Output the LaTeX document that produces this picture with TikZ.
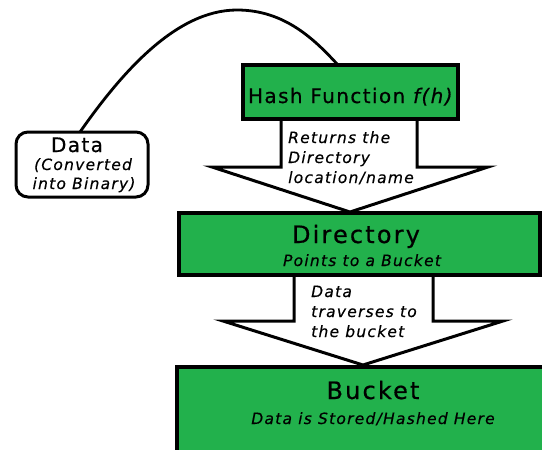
\documentclass[tikz,border=0pt]{standalone}
\usepackage{fontspec}
\setmainfont{DejaVu Sans}
\definecolor{hgreen}{RGB}{34,177,76}
\begin{document}
\begin{tikzpicture}[x=1pt,y=-1pt,
  gbox/.style={draw=black,line width=3.5pt,fill=hgreen},
  blockarrow/.style={draw=black,line width=3pt,fill=white,line join=miter},
  big/.style={anchor=base,inner sep=0pt,font=\fontsize{20}{22}\selectfont\addfontfeatures{LetterSpace=7,FakeBold=0.6}},
  huge/.style={anchor=base,inner sep=0pt,font=\fontsize{24}{26}\selectfont\addfontfeatures{LetterSpace=9,FakeBold=0.6}},
  small/.style={anchor=base,inner sep=0pt,font=\fontsize{15.5}{20}\selectfont\itshape\addfontfeatures{LetterSpace=8,FakeBold=0.4}}]
\useasboundingbox (0,0) rectangle (542,450);
% block arrow 1
\draw[blockarrow] (281,117) -- (281,167) -- (212,167) -- (350,212) -- (488,167) -- (417,167) -- (417,117);
% block arrow 2
\draw[blockarrow] (294,273) -- (294,321) -- (223,321) -- (363,365) -- (503,321) -- (433,321) -- (433,273);
% boxes
\draw[gbox] (243,65) rectangle (458,119);
\node[big] (hash) at (351,103) {Hash Function \textit{f(h)}};
\draw[gbox] (179,213) rectangle (540,275);
\node[huge] (dir) at (356,243) {Directory};
\node[small] (dirsub) at (362,266) {Points to a Bucket};
\draw[gbox] (177,367) rectangle (560,470);
\node[huge] (buck) at (373,399) {Bucket};
\node[small] (bucksub) at (373,424) {Data is Stored/Hashed Here};
% arrow texts
\node[small,anchor=base west] (t1a) at (288,143) {Returns the};
\node[small,anchor=base west] (t1b) at (288,163) {Directory};
\node[small,anchor=base west] (t1c) at (288,183) {location/name};
\node[small,anchor=base west] (t2a) at (311,297) {Data};
\node[small,anchor=base west] (t2b) at (311,317) {traverses to};
\node[small,anchor=base west] (t2c) at (311,337) {the bucket};
% data box
\draw[line width=3pt,rounded corners=12pt,fill=white] (16,132) rectangle (148,197);
\node[big] (data) at (77,152) {Data};
\node[small] (datasub1) at (83,170) {(Converted};
\node[small] (datasub2) at (84,189) {into Binary)};
% curve
\coordinate (c1) at (80,132);
\coordinate (peak) at (237,10);
\coordinate (c2) at (338,65);
\draw[line width=2.8pt] (c1) .. controls (120,75) and (175,10) .. (peak) .. controls (285,10) and (315,40) .. (c2);
\end{tikzpicture}
\end{document}
